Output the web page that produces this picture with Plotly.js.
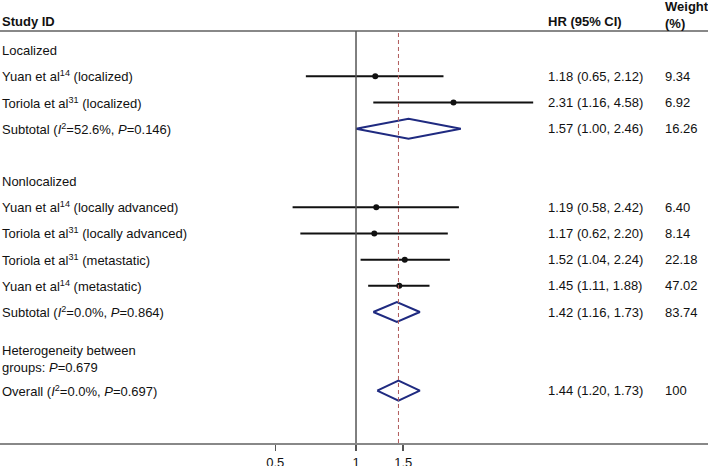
<!DOCTYPE html>
<html>
<head>
<meta charset="utf-8">
<script src="https://cdn.plot.ly/plotly-3.0.1.min.js"></script>
<style>
  html, body { margin: 0; padding: 0; background: #fff; }
  #chart { width: 708px; height: 466px; }
</style>
</head>
<body>
<div id="chart"></div>
<script>
// individual studies
const studyLabels = [
  "Yuan et al<sup>14</sup> (localized)",
  "Toriola et al<sup>31</sup> (localized)",
  "Yuan et al<sup>14</sup> (locally advanced)",
  "Toriola et al<sup>31</sup> (locally advanced)",
  "Toriola et al<sup>31</sup> (metastatic)",
  "Yuan et al<sup>14</sup> (metastatic)"
];
const studyRows = [2, 3, 7, 8, 9, 10];
const studyHR = [1.18, 2.31, 1.19, 1.17, 1.52, 1.45];
const studyLo = [0.65, 1.16, 0.58, 0.62, 1.04, 1.11];
const studyHi = [2.12, 4.58, 2.42, 2.20, 2.24, 1.88];
const studyWeight = [9.34, 6.92, 6.40, 8.14, 22.18, 47.02];

// pooled estimates (diamonds)
const poolLabels = [
  "Subtotal (<i>I</i><sup>2</sup>=52.6%, <i>P</i>=0.146)",
  "Subtotal (<i>I</i><sup>2</sup>=0.0%, <i>P</i>=0.864)",
  "Overall (<i>I</i><sup>2</sup>=0.0%, <i>P</i>=0.697)"
];
const poolRows = [4, 11, 14];
const poolHR = [1.57, 1.42, 1.44];
const poolLo = [1.00, 1.16, 1.20];
const poolHi = [2.46, 1.73, 1.73];
const poolWeight = [16.26, 83.74, 100];

// group headings
const groupLabels = ["Localized", "Nonlocalized", "Heterogeneity between<br>groups: <i>P</i>=0.679"];
const groupRows = [1, 6, 12.8];

const tickVals = [0.5, 1, 1.5];
const tickText = ["0.5", "1", "1.5"];

function fmt(x, d = 2) { return Number(x).toFixed(d); }
function fmtW(w) { return w === 100 ? "100" : fmt(w); }

const FONT = "Liberation Sans, Arial, sans-serif";
const TXT = "#111";
const overallHR = poolHR[poolHR.length - 1];

// CI whiskers
const ciX = [], ciY = [];
studyLo.forEach((lo, i) => {
  ciX.push(lo, studyHi[i], null);
  ciY.push(studyRows[i], studyRows[i], null);
});

const traces = [
  {
    type: "scatter", mode: "lines",
    x: ciX, y: ciY,
    line: { color: "#111", width: 2 },
    hoverinfo: "skip", showlegend: false
  },
  {
    type: "scatter", mode: "markers",
    x: studyHR, y: studyRows,
    marker: { color: "#111", size: 6 },
    showlegend: false
  }
];

const dh = 0.38;
poolHR.forEach((est, i) => {
  const r = poolRows[i];
  traces.push({
    type: "scatter", mode: "lines",
    x: [poolLo[i], est, poolHi[i], est, poolLo[i]],
    y: [r, r - dh, r, r + dh, r],
    line: { color: "#1f2a80", width: 2 },
    hoverinfo: "skip", showlegend: false
  });
});

const annotations = [];
function addText(text, x, y, opts = {}) {
  annotations.push(Object.assign({
    text, x, y, xref: "paper", yref: "y",
    xanchor: "left", yanchor: "middle", showarrow: false, align: "left",
    font: { family: FONT, size: 13, color: TXT }
  }, opts));
}

const xHR = 546 / 708, xW = 663 / 708;

groupLabels.forEach((t, i) => addText(t, 0, groupRows[i]));
studyLabels.forEach((t, i) => {
  addText(t, 0, studyRows[i]);
  addText(`${fmt(studyHR[i])} (${fmt(studyLo[i])}, ${fmt(studyHi[i])})`, xHR, studyRows[i]);
  addText(fmtW(studyWeight[i]), xW, studyRows[i]);
});
poolLabels.forEach((t, i) => {
  addText(t, 0, poolRows[i]);
  addText(`${fmt(poolHR[i])} (${fmt(poolLo[i])}, ${fmt(poolHi[i])})`, xHR, poolRows[i]);
  addText(fmtW(poolWeight[i]), xW, poolRows[i]);
});

// header
const hdrFont = { family: FONT, size: 13, color: TXT, weight: "bold" };
addText("<b>Study ID</b>", 0, 1.024, { yref: "paper", font: hdrFont });
addText("<b>HR (95% CI)</b>", xHR, 1.024, { yref: "paper", font: hdrFont });
addText("<b>Weight</b><br><b>(%)</b>", xW, 1.040, { yref: "paper", font: hdrFont });

const layout = {
  width: 708, height: 466,
  margin: { l: 0, r: 0, t: 31, b: 23 },
  paper_bgcolor: "#fff", plot_bgcolor: "#fff",
  font: { family: FONT, size: 13, color: TXT },
  showlegend: false,
  xaxis: {
    type: "log", range: [-1.328, 1.313], autorange: false,
    tickvals: tickVals, ticktext: tickText,
    ticks: "outside", ticklen: 6, tickwidth: 1.5, tickcolor: "#555",
    showline: true, linecolor: "#888", linewidth: 2,
    showgrid: false, zeroline: false,
    tickfont: { family: FONT, size: 13, color: TXT }
  },
  yaxis: { range: [16, 0.27], autorange: false, visible: false, showgrid: false, zeroline: false },
  shapes: [
    { type: "line", xref: "paper", yref: "paper", x0: 0, x1: 1, y0: 1, y1: 1,
      line: { color: "#888", width: 2 } },
    { type: "line", xref: "x", yref: "paper", x0: 1, x1: 1, y0: 0, y1: 1,
      line: { color: "#555", width: 1.5 } },
    { type: "line", xref: "x", yref: "paper", x0: overallHR, x1: overallHR, y0: 0, y1: 0.995,
      line: { color: "#b05a5a", width: 1, dash: "4px,3px" } }
  ],
  annotations
};

Plotly.newPlot("chart", traces, layout, { staticPlot: true, displayModeBar: false });
</script>
</body>
</html>
